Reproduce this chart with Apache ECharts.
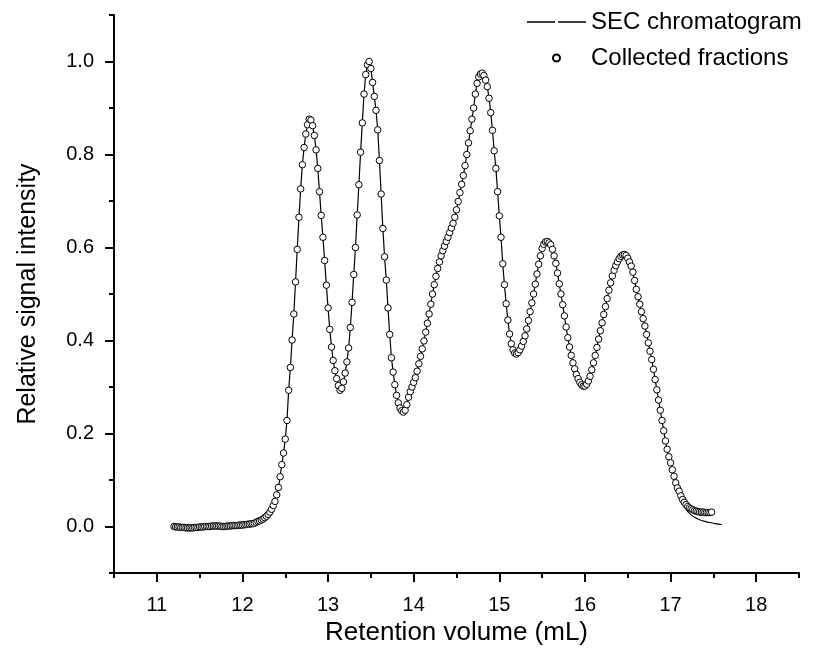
<!DOCTYPE html>
<html><head><meta charset="utf-8">
<script src="https://cdn.jsdelivr.net/npm/echarts@6/dist/echarts.min.js"></script>
<style>html,body{margin:0;padding:0;background:#fff}#c{width:819px;height:653px}</style>
</head><body><div id="c"></div>
<script>
// Retention volumes (mL) of the collected fractions
const fractionVolume = [
11.20,11.22,11.24,11.26,11.28,11.30,11.32,11.34,11.36,11.38,
11.40,11.42,11.44,11.46,11.48,11.50,11.52,11.54,11.56,11.58,
11.60,11.62,11.64,11.66,11.68,11.70,11.72,11.74,11.76,11.78,
11.80,11.82,11.84,11.86,11.88,11.90,11.92,11.94,11.96,11.98,
12.00,12.02,12.04,12.06,12.08,12.10,12.12,12.14,12.16,12.18,
12.20,12.22,12.24,12.26,12.28,12.30,12.32,12.34,12.36,12.38,
12.40,12.42,12.44,12.46,12.48,12.50,12.52,12.54,12.56,12.58,
12.60,12.62,12.64,12.66,12.68,12.70,12.72,12.74,12.76,12.78,
12.80,12.82,12.84,12.86,12.88,12.90,12.92,12.94,12.96,12.98,
13.00,13.02,13.04,13.06,13.08,13.10,13.12,13.14,13.16,13.18,
13.20,13.22,13.24,13.26,13.28,13.30,13.32,13.34,13.36,13.38,
13.40,13.42,13.44,13.46,13.48,13.50,13.52,13.54,13.56,13.58,
13.60,13.62,13.64,13.66,13.68,13.70,13.72,13.74,13.76,13.78,
13.80,13.82,13.84,13.86,13.88,13.90,13.92,13.94,13.96,13.98,
14.00,14.02,14.04,14.06,14.08,14.10,14.12,14.14,14.16,14.18,
14.20,14.22,14.24,14.26,14.28,14.30,14.32,14.34,14.36,14.38,
14.40,14.42,14.44,14.46,14.48,14.50,14.52,14.54,14.56,14.58,
14.60,14.62,14.64,14.66,14.68,14.70,14.72,14.74,14.76,14.78,
14.80,14.82,14.84,14.86,14.88,14.90,14.92,14.94,14.96,14.98,
15.00,15.02,15.04,15.06,15.08,15.10,15.12,15.14,15.16,15.18,
15.20,15.22,15.24,15.26,15.28,15.30,15.32,15.34,15.36,15.38,
15.40,15.42,15.44,15.46,15.48,15.50,15.52,15.54,15.56,15.58,
15.60,15.62,15.64,15.66,15.68,15.70,15.72,15.74,15.76,15.78,
15.80,15.82,15.84,15.86,15.88,15.90,15.92,15.94,15.96,15.98,
16.00,16.02,16.04,16.06,16.08,16.10,16.12,16.14,16.16,16.18,
16.20,16.22,16.24,16.26,16.28,16.30,16.32,16.34,16.36,16.38,
16.40,16.42,16.44,16.46,16.48,16.50,16.52,16.54,16.56,16.58,
16.60,16.62,16.64,16.66,16.68,16.70,16.72,16.74,16.76,16.78,
16.80,16.82,16.84,16.86,16.88,16.90,16.92,16.94,16.96,16.98,
17.00,17.02,17.04,17.06,17.08,17.10,17.12,17.14,17.16,17.18,
17.20,17.22,17.24,17.26,17.28,17.30,17.32,17.34,17.36,17.38,
17.40,17.42,17.44,17.46,17.48
];
// Relative signal intensity of the collected fractions
const fractionIntensity = [
0.000,-0.001,-0.001,-0.001,-0.002,-0.002,-0.002,-0.003,-0.003,-0.003,
-0.003,-0.003,-0.002,-0.002,-0.002,-0.001,-0.001,-0.001,0.000,0.000,
0.000,0.000,0.001,0.001,0.001,0.001,0.001,0.001,0.000,0.000,
0.000,0.001,0.001,0.001,0.002,0.002,0.002,0.002,0.003,0.003,
0.003,0.004,0.004,0.005,0.005,0.006,0.006,0.007,0.009,0.011,
0.012,0.014,0.016,0.019,0.022,0.026,0.031,0.037,0.045,0.054,
0.068,0.084,0.107,0.133,0.158,0.188,0.228,0.293,0.342,0.401,
0.457,0.526,0.596,0.665,0.726,0.778,0.815,0.844,0.864,0.876,
0.874,0.862,0.841,0.810,0.770,0.720,0.669,0.622,0.572,0.519,
0.470,0.424,0.386,0.357,0.335,0.318,0.303,0.293,0.297,0.311,
0.330,0.354,0.384,0.428,0.482,0.542,0.600,0.670,0.735,0.805,
0.868,0.930,0.972,0.993,1.000,0.985,0.955,0.925,0.895,0.853,
0.787,0.715,0.641,0.580,0.530,0.470,0.413,0.363,0.332,0.305,
0.282,0.266,0.255,0.249,0.246,0.250,0.262,0.278,0.290,0.300,
0.310,0.320,0.334,0.350,0.366,0.382,0.399,0.418,0.437,0.457,
0.478,0.500,0.520,0.538,0.555,0.569,0.582,0.593,0.603,0.613,
0.622,0.632,0.642,0.652,0.665,0.681,0.699,0.718,0.736,0.755,
0.776,0.800,0.825,0.851,0.876,0.900,0.930,0.953,0.967,0.973,
0.975,0.970,0.960,0.946,0.921,0.890,0.852,0.808,0.770,0.720,
0.668,0.622,0.565,0.520,0.479,0.444,0.414,0.393,0.380,0.373,
0.371,0.374,0.380,0.388,0.398,0.410,0.425,0.443,0.462,0.481,
0.500,0.521,0.543,0.564,0.582,0.598,0.607,0.612,0.613,0.610,
0.606,0.596,0.582,0.566,0.545,0.522,0.500,0.477,0.453,0.429,
0.406,0.386,0.368,0.352,0.339,0.327,0.318,0.310,0.305,0.302,
0.302,0.306,0.313,0.323,0.337,0.352,0.368,0.385,0.403,0.421,
0.438,0.456,0.473,0.490,0.508,0.524,0.539,0.551,0.561,0.569,
0.576,0.581,0.584,0.585,0.583,0.577,0.569,0.560,0.547,0.529,
0.510,0.494,0.478,0.462,0.447,0.431,0.413,0.395,0.377,0.359,
0.338,0.316,0.294,0.272,0.250,0.228,0.206,0.184,0.166,0.150,
0.137,0.122,0.108,0.094,0.083,0.076,0.066,0.058,0.052,0.047,
0.043,0.040,0.038,0.036,0.034,0.033,0.032,0.031,0.031,0.031,
0.030,0.030,0.030,0.030,0.031
];
// SEC chromatogram tail, where the trace drops below the fractions
const chromTailVolume = [
17.06,17.08,17.10,17.12,17.14,17.16,17.18,17.20,17.22,17.24,
17.26,17.28,17.30,17.32,17.34,17.36,17.38,17.40,17.42,17.44,
17.46,17.48,17.50,17.52,17.54,17.56,17.58,17.60
];
const chromTailIntensity = [
0.094,0.082,0.071,0.061,0.052,0.045,0.038,0.032,0.028,0.025,
0.022,0.020,0.018,0.016,0.014,0.013,0.012,0.011,0.010,0.009,
0.008,0.008,0.007,0.006,0.006,0.005,0.005,0.004
];
// axis ranges and tick steps
const xRange = [10.5, 18.5], xMajorRange = [11, 18], xMajorStep = 1, xMinorStep = 0.5;
const yRange = [-0.1, 1.1], yMajorRange = [0, 1.0], yMajorStep = 0.2, yMinorStep = 0.1;

const fractions = fractionVolume.map((v, i) => [v, fractionIntensity[i]]);
const chromatogram = fractions
  .filter(p => p[0] < chromTailVolume[0] - 1e-6)
  .concat(chromTailVolume.map((v, i) => [v, chromTailIntensity[i]]));

// layout of the main plotting area (px)
const W = 819, H = 653;
const G = {left: 114, right: 20, top: 15, bottom: 80};
const pxPerX = (W - G.left - G.right) / (xRange[1] - xRange[0]);
const pxPerY = (H - G.top - G.bottom) / (yRange[1] - yRange[0]);
// grids holding the labelled (major) axes, aligned with the main scale
const gridX = {left: G.left + (xMajorRange[0] - xRange[0]) * pxPerX,
               right: G.right + (xRange[1] - xMajorRange[1]) * pxPerX,
               top: G.top, bottom: G.bottom};
const gridY = {left: G.left, right: G.right,
               top: G.top + (yRange[1] - yMajorRange[1]) * pxPerY,
               bottom: G.bottom + (yMajorRange[0] - yRange[0]) * pxPerY};

const FONT = '"Liberation Sans", Arial, sans-serif';
const axisCol = '#000';
const hiddenSplit = () => ({show: true, lineStyle: {color: 'rgba(0,0,0,0)', width: 0}});
const axisLineOn = () => ({show: true, onZero: false, lineStyle: {color: axisCol, width: 2}});
const axisLineOff = () => ({show: false, onZero: false});
const ticks = len => ({show: true, inside: false, length: len, lineStyle: {color: axisCol, width: 2}});

const chart = echarts.init(document.getElementById('c'), null, {renderer: 'canvas'});
chart.setOption({
  backgroundColor: '#fff',
  animation: false,
  grid: [
    Object.assign({}, G),
    Object.assign({}, gridX),
    Object.assign({}, gridY)
  ],
  legend: {
    data: [
      {name: 'SEC chromatogram', icon: 'path://M0,0 L28,0 L28,1.6 L0,1.6 Z M31,0 L59,0 L59,1.6 L31,1.6 Z'},
      {name: 'Collected fractions', icon: 'circle'}
    ],
    left: 522, top: 5, orient: 'vertical', itemGap: 12,
    itemWidth: 59, itemHeight: 7,
    textStyle: {fontFamily: FONT, fontSize: 24, color: '#000'},
    selectedMode: false
  },
  xAxis: [
    {gridIndex: 0, type: 'value', min: xRange[0], max: xRange[1], interval: xMinorStep, position: 'bottom',
     axisLine: axisLineOn(), axisTick: ticks(5),
     axisLabel: {show: false}, splitLine: hiddenSplit(),
     name: 'Retention volume (mL)', nameLocation: 'middle', nameGap: 47,
     nameTextStyle: {fontFamily: FONT, fontSize: 26, color: '#000'}},
    // major ticks
    {gridIndex: 1, type: 'value', min: xMajorRange[0], max: xMajorRange[1], interval: xMajorStep, position: 'bottom',
     axisLine: axisLineOn(), axisTick: ticks(9),
     axisLabel: {show: false}, splitLine: hiddenSplit()},
    {gridIndex: 2, type: 'value', min: xRange[0], max: xRange[1], show: false},
    // major labels
    {gridIndex: 1, type: 'value', min: xMajorRange[0], max: xMajorRange[1], interval: xMajorStep, position: 'bottom',
     axisLine: axisLineOff(), axisTick: {show: false},
     axisLabel: {show: true, margin: 22, fontFamily: FONT, fontSize: 20, color: '#000'},
     splitLine: hiddenSplit()}
  ],
  yAxis: [
    {gridIndex: 0, type: 'value', min: yRange[0], max: yRange[1], interval: yMinorStep, position: 'left',
     axisLine: axisLineOn(), axisTick: ticks(5),
     axisLabel: {show: false}, splitLine: hiddenSplit(),
     name: 'Relative signal intensity', nameLocation: 'middle', nameGap: 73,
     nameTextStyle: {fontFamily: FONT, fontSize: 25, color: '#000'}},
    {gridIndex: 1, type: 'value', min: yRange[0], max: yRange[1], show: false},
    // major ticks
    {gridIndex: 2, type: 'value', min: yMajorRange[0], max: yMajorRange[1], interval: yMajorStep, position: 'left',
     axisLine: axisLineOn(), axisTick: ticks(9),
     axisLabel: {show: false}, splitLine: hiddenSplit()},
    // major labels
    {gridIndex: 2, type: 'value', min: yMajorRange[0], max: yMajorRange[1], interval: yMajorStep, position: 'left',
     axisLine: axisLineOff(), axisTick: {show: false},
     axisLabel: {show: true, margin: 20, fontFamily: FONT, fontSize: 20, color: '#000',
       formatter: v => Number(v).toFixed(1)},
     splitLine: hiddenSplit()}
  ],
  series: [
    {name: 'SEC chromatogram', type: 'line', xAxisIndex: 0, yAxisIndex: 0,
     data: chromatogram, showSymbol: false, symbol: 'none',
     lineStyle: {color: '#000', width: 1.2}, itemStyle: {color: '#000'}, z: 2},
    {name: 'Collected fractions', type: 'scatter', xAxisIndex: 0, yAxisIndex: 0,
     data: fractions, symbol: 'circle', symbolSize: 6.5,
     itemStyle: {color: '#fff', borderColor: '#000', borderWidth: 1, opacity: 1}, z: 3}
  ]
});
</script></body></html>
